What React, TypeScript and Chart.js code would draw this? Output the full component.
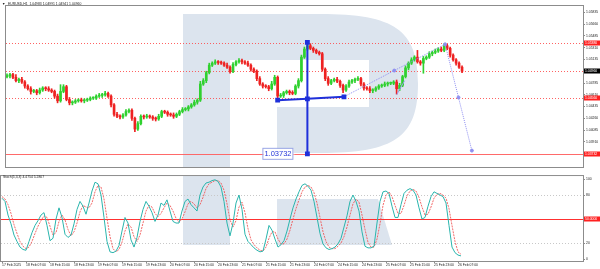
import React, { useEffect, useRef } from 'react';
import { Chart, registerables } from 'chart.js';
Chart.register(...registerables);

// ---------- DATA ----------
const firstOpen = 1.0488;
const closes = [
  1.0489,1.0491,1.0487,1.0482,1.0484,1.0480,1.0474,1.0470,1.0466,1.0467,
  1.0464,1.0468,1.0471,1.0470,1.0468,1.0466,1.0459,1.0452,1.0466,1.0473,
  1.0454,1.0449,1.0450,1.0452,1.0453,1.0452,1.0453,1.0454,1.0456,1.0456,
  1.0459,1.0460,1.0461,1.0463,1.0459,1.0446,1.0432,1.0429,1.0428,1.0431,
  1.0436,1.0438,1.0426,1.0410,1.0418,1.0429,1.0428,1.0429,1.0428,1.0426,
  1.0425,1.0429,1.0436,1.0435,1.0432,1.0431,1.0429,1.0432,1.0436,1.0439,
  1.0440,1.0443,1.0446,1.0450,1.0453,1.0477,1.0482,1.0494,1.0505,1.0508,
  1.0510,1.0509,1.0508,1.0505,1.0502,1.0496,1.0506,1.0510,1.0512,1.0510,
  1.0508,1.0505,1.0499,1.0496,1.0485,1.0477,1.0474,1.0473,1.0470,1.0477,
  1.0487,1.0459,1.0460,1.0464,1.0466,1.0464,1.0463,1.0474,1.0482,1.0517,
  1.0529,1.0534,1.0530,1.0527,1.0524,1.0522,1.0499,1.0485,1.0478,1.0482,
  1.0484,1.0481,1.0475,1.0468,1.0474,1.0480,1.0482,1.0484,1.0485,1.0477,
  1.0471,1.0470,1.0467,1.0468,1.0471,1.0474,1.0475,1.0477,1.0478,1.0478,
  1.0480,1.0470,1.0475,1.0488,1.0501,1.0508,1.0513,1.0517,1.0510,1.0508,
  1.0515,1.0517,1.0522,1.0524,1.0526,1.0529,1.0527,1.0534,1.0530,1.0520,
  1.0513,1.0508,1.0502,1.0496,
];
const upWickPips = [
  3,2,2,4,2,3,2,2,3,2, 2,3,2,2,3,2,2,3,10,3, 2,3,2,2,2,3,2,2,2,2,
  2,3,2,3,2,2,2,3,2,2, 3,2,2,2,3,2,2,3,2,2, 2,3,2,2,2,2,3,2,2,3,
  2,2,2,3,2,4,3,2,3,2, 3,2,2,2,3,2,3,2,3,2, 2,3,2,2,2,3,2,2,2,4,
  3,2,3,2,2,2,3,2,3,3, 3,5,3,2,2,2,2,2,3,2, 2,3,2,2,2,3,2,2,3,2,
  2,2,3,2,2,2,2,3,2,2, 2,3,3,2,3,2,3,2,10,2, 3,2,3,2,3,2,3,3,2,2,
  2,2,2,2,
];
const downWickPips = [
  2,3,2,2,3,2,3,2,4,2, 3,2,2,3,2,2,3,3,2,2, 2,3,3,2,2,2,3,2,2,2,
  2,2,3,2,2,3,3,2,3,2, 2,2,3,4,2,2,3,2,2,3, 3,2,2,2,3,2,3,2,2,2,
  2,3,2,2,3,2,2,3,2,2, 2,3,2,2,2,3,2,2,2,3, 2,2,3,2,3,2,3,2,3,2,
  2,3,2,3,2,3,2,2,3,2, 2,2,2,3,2,2,3,3,3,2, 2,2,3,4,2,2,2,3,2,3,
  3,2,3,3,2,2,2,2,3,2, 2,8,3,2,2,3,2,2,2,3, 15,2,2,3,2,2,2,2,2,3,
  2,3,2,2,
];
const stochK = [
  76,72,55,44,30,22,15,12,11,22, 33,42,48,55,58,42,23,26,50,64,
  52,31,27,30,44,62,72,66,56,70, 85,96,94,80,52,22,9,8,10,17,
  35,52,45,24,15,27,47,62,72,66, 58,47,55,70,67,74,60,47,45,45,
  60,72,75,68,64,60,80,90,95,96, 98,99,97,90,72,45,29,45,70,80,
  62,31,22,18,14,11,9,10,25,42, 36,25,15,18,23,35,50,64,75,84,
  92,94,91,86,72,52,32,19,14,12, 13,15,19,26,40,54,72,80,72,60,
  34,16,14,14,16,45,72,84,85,82, 66,52,52,68,82,86,88,86,80,64,
  50,52,66,78,84,82,80,78,70,42, 15,8,5,4,
];
const stochD = [
  78,75,68,57,43,32,22,16,13,15, 22,32,41,48,54,52,41,30,33,47,
  55,49,37,29,34,45,59,67,65,64, 70,84,92,90,75,51,28,13,9,12,
  21,35,44,40,28,22,30,45,60,67, 65,57,53,57,64,70,67,60,51,46,
  50,59,69,72,69,64,68,77,88,94, 96,98,98,95,86,69,49,40,48,65,
  71,58,38,24,18,14,11,10,15,26, 34,34,25,19,19,25,36,50,63,74,
  84,90,92,90,83,70,52,34,22,15, 13,13,16,20,28,40,55,69,75,71,
  55,37,21,15,15,25,44,67,80,84, 78,67,57,57,67,79,85,87,85,77,
  65,55,56,65,76,81,82,80,76,63, 42,22,9,6,
];
const xTickLabels = [
  '17 Feb 2025','18 Feb 07:00','18 Feb 15:00','18 Feb 23:00','19 Feb 07:00',
  '19 Feb 15:00','19 Feb 23:00','20 Feb 07:00','20 Feb 15:00','20 Feb 23:00',
  '21 Feb 07:00','21 Feb 15:00','21 Feb 23:00','24 Feb 07:00','24 Feb 15:00',
  '24 Feb 23:00','25 Feb 07:00','25 Feb 15:00','25 Feb 23:00','26 Feb 07:00',
];
const barsPerXTick = 8;
const priceTicks = [1.03735,1.03910,1.04085,1.04260,1.04435,1.04610,1.04785,1.04960,1.05135,1.05310,1.05485,1.05660,1.05835];
const levelValues = [1.0538, 1.0496, 1.0456, 1.03732];
const levelLabels = ['1.05380', '1.04960', '1.04560', '1.03732'];
const stochTicks = [0, 20, 80, 100];
const stochGridLevels = [20, 80];
const stochSignalLevel = 50;
const stochSignalLabel = '50.0000';
const measureVertical = [{ x: 101, y: 1.0539 }, { x: 101, y: 1.03732 }];
const measureHorizontal = [{ x: 91, y: 1.0453 }, { x: 101, y: 1.0455 }, { x: 113.3, y: 1.0458 }];
const projectionPath = [
  { x: 113.3, y: 1.0458 }, { x: 130.2, y: 1.0497 }, { x: 147.3, y: 1.0536 },
  { x: 151.8, y: 1.0457 }, { x: 156.3, y: 1.0378 },
];
const channelPiece = [{ x: 131, y: 1.0461 }, { x: 133.7, y: 1.0482 }];
const targetLabel = '1.03732';
const headerText = 'EURUSD,H1  1.04983 1.04991 1.04941 1.04960';
const stochHeader = 'Stoch(5,3,3) 4.4754 5.2807';

// ---------- STYLE ----------
const PIP = 0.0001;
const BULL = '#2fd12f';
const BEAR = '#ee2222';
const WM = '#dce4ee';
const TXT = '#222';
const FRAME = '#8c8c8c';
const FONT = 'Liberation Sans';
const TINY = 3.4;
const X_MIN = -1 / 3;
const X_MAX = X_MIN + 582 / 3;
const LEVEL_STYLE = [
  { color: 'rgba(255,70,70,0.85)', dash: [1, 2], box: '#ff2020' },
  { color: 'rgba(255,70,70,0.85)', dash: [1, 2], box: '#000000' },
  { color: 'rgba(255,70,70,0.85)', dash: [1, 2], box: '#ff2020' },
  { color: 'rgba(255,90,90,0.9)', dash: [], box: '#ff2020' },
];

function drawTopWatermark(ctx: CanvasRenderingContext2D, a: any) {
  ctx.save();
  ctx.beginPath();
  ctx.rect(a.left, a.top, a.right - a.left, a.bottom - a.top);
  ctx.clip();
  ctx.fillStyle = WM;
  ctx.beginPath();
  ctx.moveTo(183, 14);
  ctx.lineTo(320, 14);
  ctx.bezierCurveTo(395, 14, 418, 30, 418, 83.5);
  ctx.bezierCurveTo(418, 137, 395, 153, 320, 153);
  ctx.lineTo(277, 153);
  ctx.lineTo(277, 107);
  ctx.lineTo(369, 107);
  ctx.lineTo(369, 60);
  ctx.lineTo(230, 60);
  ctx.lineTo(230, 200);
  ctx.lineTo(183, 200);
  ctx.closePath();
  ctx.fill();
  ctx.restore();
}

function drawBottomWatermark(ctx: CanvasRenderingContext2D, a: any) {
  ctx.save();
  ctx.beginPath();
  ctx.rect(a.left, a.top, a.right - a.left, a.bottom - a.top);
  ctx.clip();
  ctx.fillStyle = WM;
  ctx.fillRect(183, 0, 47, 72);
  ctx.beginPath();
  ctx.moveTo(277, 26);
  ctx.lineTo(378, 26);
  ctx.lineTo(392, 72);
  ctx.lineTo(277, 72);
  ctx.closePath();
  ctx.fill();
  ctx.restore();
}

function axisBox(ctx: CanvasRenderingContext2D, a: any, py: number, color: string, text: string) {
  ctx.fillStyle = color;
  ctx.fillRect(a.right + 1, Math.round(py) - 2.5, 16, 5);
  ctx.fillStyle = '#fff';
  ctx.font = `${TINY}px "${FONT}"`;
  ctx.textAlign = 'left';
  ctx.textBaseline = 'middle';
  ctx.fillText(text, a.right + 2, Math.round(py));
}

const hiddenX = {
  type: 'linear',
  min: X_MIN,
  max: X_MAX,
  offset: false,
  display: true,
  ticks: { display: false },
  grid: { display: false, drawTicks: false },
  border: { display: false },
  afterFit: (s: any) => { s.height = 0; },
};

export default function App() {
  const topRef = useRef<HTMLCanvasElement>(null);
  const botRef = useRef<HTMLCanvasElement>(null);

  useEffect(() => {
    document.body.style.margin = '0';
    const opens = closes.map((c, i) => (i === 0 ? firstOpen : closes[i - 1]));
    const highs = closes.map((c, i) => Math.max(opens[i], c) + upWickPips[i] * PIP);
    const lows = closes.map((c, i) => Math.min(opens[i], c) - downWickPips[i] * PIP);
    const colors = closes.map((c, i) => (c >= opens[i] ? BULL : BEAR));

    const topPlugin = {
      id: 'topDecor',
      beforeDatasetsDraw(chart: any) {
        const { ctx, chartArea: a, scales } = chart;
        drawTopWatermark(ctx, a);
        ctx.save();
        levelValues.forEach((v, k) => {
          const py = Math.round(scales.y.getPixelForValue(v)) + 0.5;
          ctx.strokeStyle = LEVEL_STYLE[k].color;
          ctx.setLineDash(LEVEL_STYLE[k].dash);
          ctx.lineWidth = 1;
          ctx.beginPath();
          ctx.moveTo(a.left, py);
          ctx.lineTo(a.right, py);
          ctx.stroke();
        });
        ctx.restore();
      },
      afterDraw(chart: any) {
        const { ctx, chartArea: a, scales } = chart;
        ctx.save();
        ctx.strokeStyle = FRAME;
        ctx.lineWidth = 1;
        ctx.strokeRect(a.left - 0.5, a.top - 0.5, a.right - a.left + 1, a.bottom - a.top + 1);
        levelValues.forEach((v, k) => {
          axisBox(ctx, a, scales.y.getPixelForValue(v), LEVEL_STYLE[k].box, levelLabels[k]);
        });
        ctx.fillStyle = TXT;
        ctx.font = `${TINY}px "${FONT}"`;
        ctx.textAlign = 'left';
        ctx.textBaseline = 'middle';
        ctx.fillText('\u25BC', 2, 4.5);
        ctx.fillText(headerText, 8, 4.5);
        const tx = scales.x.getPixelForValue(measureVertical[1].x);
        const ty = scales.y.getPixelForValue(measureVertical[1].y);
        ctx.fillStyle = '#fff';
        ctx.fillRect(tx - 44, ty - 5, 30, 11);
        ctx.strokeStyle = '#9aa6e6';
        ctx.strokeRect(tx - 44.5, ty - 5.5, 30, 11);
        ctx.fillStyle = '#2436d8';
        ctx.font = `7.5px "${FONT}"`;
        ctx.fillText(targetLabel, tx - 43, ty + 0.5);
        ctx.restore();
      },
    };

    const top = new Chart(topRef.current!, {
      type: 'line',
      data: {
        datasets: [
          {
            type: 'line',
            data: measureVertical,
            borderColor: '#1f30da',
            backgroundColor: '#1f30da',
            borderWidth: 2,
            pointRadius: 2,
            pointStyle: 'rect',
            order: 0,
          } as any,
          {
            type: 'line',
            data: measureHorizontal,
            borderColor: '#1f30da',
            backgroundColor: '#1f30da',
            borderWidth: 2,
            pointRadius: 2,
            pointStyle: 'rect',
            order: 0,
          } as any,
          {
            type: 'line',
            data: projectionPath,
            borderColor: '#8f8ff0',
            backgroundColor: '#8f8ff0',
            borderWidth: 1,
            borderDash: [1, 1],
            pointRadius: 1.5,
            order: 0,
          } as any,
          {
            type: 'line',
            data: channelPiece,
            borderColor: '#9a9af0',
            borderWidth: 1,
            pointRadius: 0,
            order: 0,
          } as any,
          {
            type: 'bar',
            data: closes.map((c, i) => ({ x: i, y: [lows[i], highs[i]] })),
            backgroundColor: colors,
            barThickness: 1,
            grouped: false,
            order: 2,
          } as any,
          {
            type: 'bar',
            data: closes.map((c, i) => ({ x: i, y: [opens[i], c] })),
            backgroundColor: colors,
            barThickness: 2,
            minBarLength: 1,
            grouped: false,
            order: 1,
          } as any,
        ],
      },
      options: {
        animation: false,
        responsive: false,
        devicePixelRatio: 1,
        layout: { padding: { left: 1, top: 1, right: 0, bottom: 1 } },
        plugins: { legend: { display: false }, tooltip: { enabled: false } },
        events: [],
        scales: {
          x: hiddenX,
          y: {
            position: 'right',
            min: 1.05944 - 0.00014 * 172,
            max: 1.05944 - 0.00014 * 1,
            afterBuildTicks: (s: any) => { s.ticks = priceTicks.map((v) => ({ value: v })); },
            afterFit: (s: any) => { s.width = 17; },
            ticks: {
              callback: (v: any) => Number(v).toFixed(5),
              font: { size: TINY, family: FONT },
              color: TXT,
              padding: 1,
            },
            grid: { drawOnChartArea: false, drawTicks: true, tickLength: 2, tickColor: FRAME },
            border: { display: false },
          },
        },
      } as any,
      plugins: [topPlugin],
    });

    const botPlugin = {
      id: 'botDecor',
      beforeDatasetsDraw(chart: any) {
        const { ctx, chartArea: a, scales } = chart;
        drawBottomWatermark(ctx, a);
        ctx.save();
        ctx.lineWidth = 1;
        ctx.strokeStyle = '#c8c8c8';
        ctx.setLineDash([1, 2]);
        stochGridLevels.forEach((v) => {
          const py = Math.round(scales.y.getPixelForValue(v)) + 0.5;
          ctx.beginPath(); ctx.moveTo(a.left, py); ctx.lineTo(a.right, py); ctx.stroke();
        });
        ctx.setLineDash([]);
        ctx.strokeStyle = '#ff3030';
        const p50 = Math.round(scales.y.getPixelForValue(stochSignalLevel)) + 0.5;
        ctx.beginPath(); ctx.moveTo(a.left, p50); ctx.lineTo(a.right, p50); ctx.stroke();
        ctx.restore();
      },
      afterDraw(chart: any) {
        const { ctx, chartArea: a, scales } = chart;
        ctx.save();
        ctx.strokeStyle = FRAME;
        ctx.lineWidth = 1;
        ctx.strokeRect(a.left - 0.5, a.top - 0.5, a.right - a.left + 1, a.bottom - a.top + 1);
        axisBox(ctx, a, scales.y.getPixelForValue(stochSignalLevel), '#ff2020', stochSignalLabel);
        ctx.fillStyle = TXT;
        ctx.font = `${TINY}px "${FONT}"`;
        ctx.textAlign = 'left';
        ctx.textBaseline = 'middle';
        ctx.fillText(stochHeader, 3, 4.5);
        ctx.restore();
      },
    };

    const bot = new Chart(botRef.current!, {
      type: 'line',
      data: {
        datasets: [
          {
            data: stochK.map((v, i) => ({ x: i, y: v })),
            borderColor: '#2ab5ad',
            borderWidth: 1,
            pointRadius: 0,
            tension: 0,
          },
          {
            data: stochD.map((v, i) => ({ x: i, y: v })),
            borderColor: 'rgba(240,80,80,0.85)',
            borderWidth: 1,
            borderDash: [2, 1],
            pointRadius: 0,
            tension: 0,
          },
        ],
      },
      options: {
        animation: false,
        responsive: false,
        devicePixelRatio: 1,
        layout: { padding: { left: 1, top: 1, right: 0, bottom: 0 } },
        plugins: { legend: { display: false }, tooltip: { enabled: false } },
        events: [],
        scales: {
          x: {
            type: 'linear',
            min: X_MIN,
            max: X_MAX,
            afterBuildTicks: (s: any) => { s.ticks = xTickLabels.map((_, k) => ({ value: k * barsPerXTick })); },
            afterFit: (s: any) => { s.height = 8; },
            ticks: {
              autoSkip: false,
              maxRotation: 0,
              minRotation: 0,
              align: 'start',
              padding: 0,
              font: { size: TINY, family: FONT },
              color: TXT,
              callback: (_v: any, idx: number) => xTickLabels[idx] ?? '',
            },
            grid: { drawOnChartArea: false, drawTicks: true, tickLength: 2, tickColor: FRAME },
            border: { display: false },
          },
          y: {
            position: 'right',
            min: -2.4,
            max: 103.7,
            afterBuildTicks: (s: any) => { s.ticks = stochTicks.map((v) => ({ value: v })); },
            afterFit: (s: any) => { s.width = 17; },
            ticks: {
              font: { size: TINY, family: FONT },
              color: TXT,
              padding: 1,
              callback: (v: any) => String(v),
            },
            grid: { drawOnChartArea: false, drawTicks: true, tickLength: 2, tickColor: FRAME },
            border: { display: false },
          },
        },
      } as any,
      plugins: [botPlugin],
    });

    return () => {
      top.destroy();
      bot.destroy();
    };
  }, []);

  return (
    <div style={{ width: 600, height: 269, background: '#fff' }}>
      <canvas ref={topRef} width={600} height={173} style={{ display: 'block' }} />
      <canvas ref={botRef} width={600} height={96} style={{ display: 'block' }} />
    </div>
  );
}
